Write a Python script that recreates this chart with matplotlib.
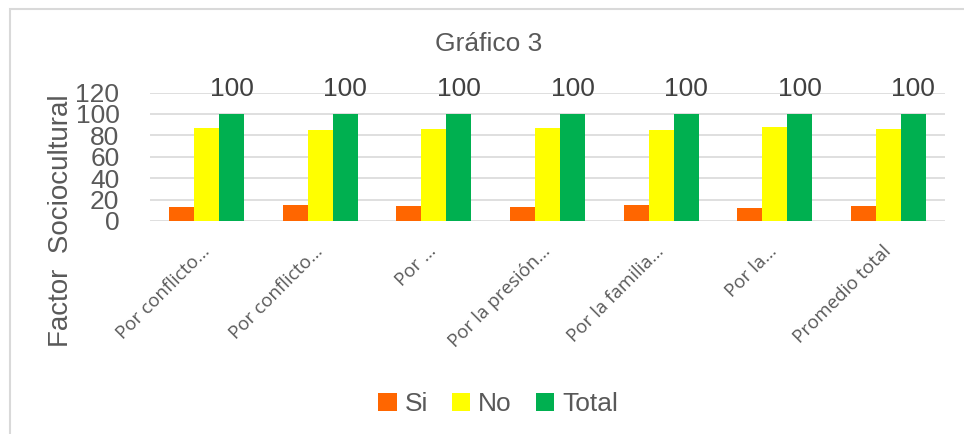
import numpy as np
import matplotlib
matplotlib.use("Agg")
import matplotlib.pyplot as plt
from matplotlib.patches import Rectangle

categories = ["Por conflicto…", "Por conflicto…", "Por …", "Por la presión…",
              "Por la familia…", "Por la…", "Promedio total"]
si = [13, 15, 14, 13, 15, 12, 14]
no = [87, 85, 86, 87, 85, 88, 86]
total = [100, 100, 100, 100, 100, 100, 100]

txt = "#595959"
plt.rcParams["font.family"] = ["Liberation Sans", "DejaVu Sans"]

fig = plt.figure(figsize=(9.64, 4.34), dpi=100)
ax = fig.add_axes([150 / 964, 1 - 221 / 434, 795 / 964, (221 - 92.5) / 434])

x = np.arange(len(categories))
w = 0.22
ax.bar(x - w, si, w, color="#FF6600", label="Si", zorder=3)
ax.bar(x, no, w, color="#FFFF00", label="No", zorder=3)
b = ax.bar(x + w, total, w, color="#00B050", label="Total", zorder=3)
ax.bar_label(b, padding=9, fontsize=19, color="#404040")

ax.set_xlim(-0.5, len(categories) - 0.5)
ax.set_ylim(0, 120)
ax.set_yticks(range(0, 121, 20))
ax.tick_params(axis="y", labelsize=19, labelcolor=txt, length=0, pad=22)
ax.grid(axis="y", color="#D9D9D9", lw=1.2, zorder=0)
for s in ax.spines.values():
    s.set_visible(False)

ax.set_xticks(x)
ax.set_xticklabels(categories, rotation=45, ha="right", va="center",
                   rotation_mode="anchor", fontsize=13.5, color=txt,
                   family=["Open Sans", "DejaVu Sans"])
ax.tick_params(axis="x", length=0, pad=20)

ax.set_ylabel("Factor  Sociocultural", fontsize=20, color=txt, labelpad=8)
ax.yaxis.set_label_coords(-0.112, 0.0)
ax.yaxis.label.set_va("center")

fig.text(489 / 964, 1 - 44 / 434, "Gráfico 3", ha="center", va="center",
         fontsize=19, color=txt)

fig.legend(loc="center", bbox_to_anchor=(498 / 964, 1 - 404 / 434), ncol=3,
           frameon=False, fontsize=19, labelcolor=txt, handlelength=0.7,
           handleheight=0.7, handletextpad=0.3, columnspacing=0.9)

fig.patches.append(Rectangle((10 / 964, -0.1), 1.2, 1 - 9 / 434 + 0.1,
                             transform=fig.transFigure, fill=False,
                             edgecolor="#D9D9D9", lw=1.5))

fig.savefig("out.png", dpi=100)
